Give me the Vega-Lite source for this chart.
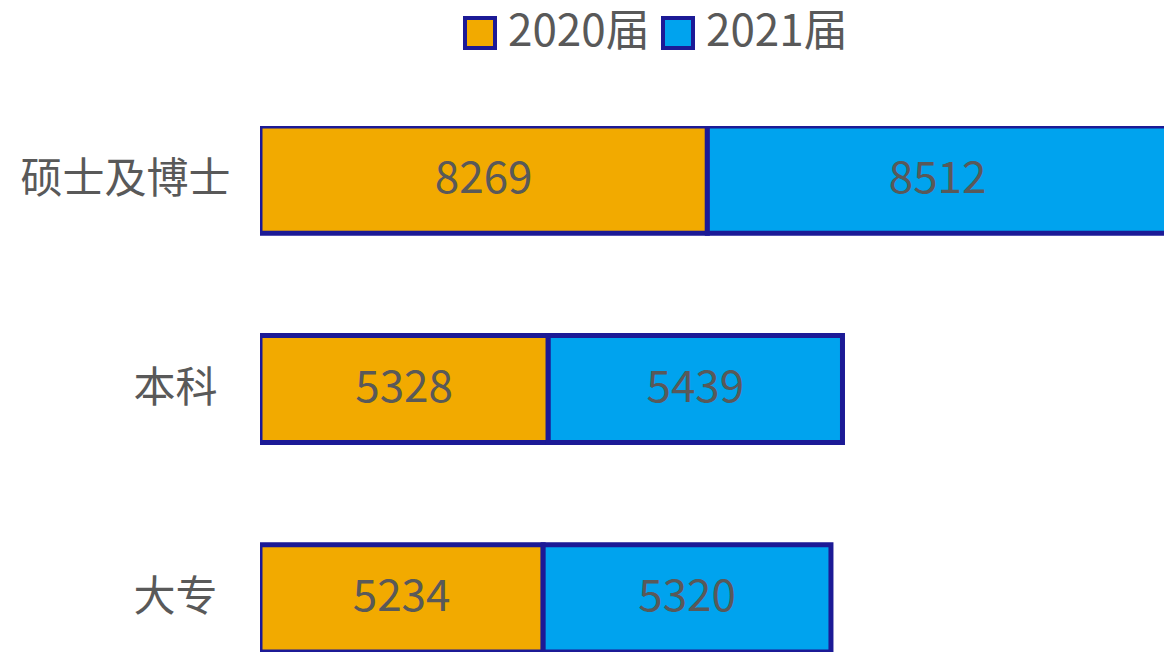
{
  "$schema": "https://vega.github.io/schema/vega-lite/v6.json",
  "autosize": {"type": "none"},
  "padding": {"left": 260, "top": 126, "right": 0, "bottom": 0},
  "width": 904,
  "height": 526,
  "background": "#ffffff",
  "config": {
    "view": {"stroke": null},
    "font": "Noto Sans CJK SC"
  },
  "data": {
    "values": [
      {"level": "硕士及博士", "year": "2020届", "count": 8269},
      {"level": "硕士及博士", "year": "2021届", "count": 8512},
      {"level": "本科", "year": "2020届", "count": 5328},
      {"level": "本科", "year": "2021届", "count": 5439},
      {"level": "大专", "year": "2020届", "count": 5234},
      {"level": "大专", "year": "2021届", "count": 5320}
    ]
  },
  "transform": [
    {"stack": "count", "groupby": ["level"], "sort": [{"field": "year", "order": "ascending"}], "as": ["c0", "c1"]},
    {"calculate": "(datum.c0 + datum.c1) / 2", "as": "cmid"}
  ],
  "encoding": {
    "y": {
      "field": "level",
      "type": "nominal",
      "sort": ["硕士及博士", "本科", "大专"],
      "scale": {"paddingInner": 0.488, "paddingOuter": 0},
      "axis": {
        "title": null,
        "domain": false,
        "ticks": false,
        "labelFontSize": 42,
        "labelColor": "#595959",
        "labelPadding": {"condition": {"test": "datum.value == '硕士及博士'", "value": 30}, "value": 43},
        "labelLimit": 0,
        "labelFont": "Noto Sans CJK SC"
      }
    }
  },
  "layer": [
    {
      "mark": {"type": "bar", "stroke": "#1C1A96", "strokeWidth": 5, "clip": true},
      "encoding": {
        "x": {"field": "c0", "type": "quantitative", "scale": {"domain": [0, 16710], "nice": false, "zero": true}, "axis": null},
        "x2": {"field": "c1"},
        "color": {
          "field": "year",
          "type": "nominal",
          "scale": {"domain": ["2020届", "2021届"], "range": ["#F2AA00", "#00A3EE"]},
          "legend": {
            "title": null,
            "orient": "none",
            "direction": "horizontal",
            "legendX": 198,
            "legendY": -115,
            "symbolType": "square",
            "symbolSize": 900,
            "symbolStrokeColor": "#1C1A96",
            "symbolStrokeWidth": 4,
            "symbolOpacity": 1,
            "labelFontSize": 44,
            "labelColor": "#595959",
            "labelFont": "Noto Sans CJK SC",
            "labelOffset": 6,
            "labelLimit": 0,
            "columnPadding": 5,
            "padding": 0
          }
        }
      }
    },
    {
      "mark": {"type": "text", "fontSize": 44, "color": "#595959", "align": "center", "baseline": "middle", "clip": true},
      "encoding": {
        "x": {"field": "cmid", "type": "quantitative", "scale": {"domain": [0, 16710], "nice": false}, "axis": null},
        "text": {"field": "count", "type": "quantitative", "format": "d"}
      }
    }
  ]
}
